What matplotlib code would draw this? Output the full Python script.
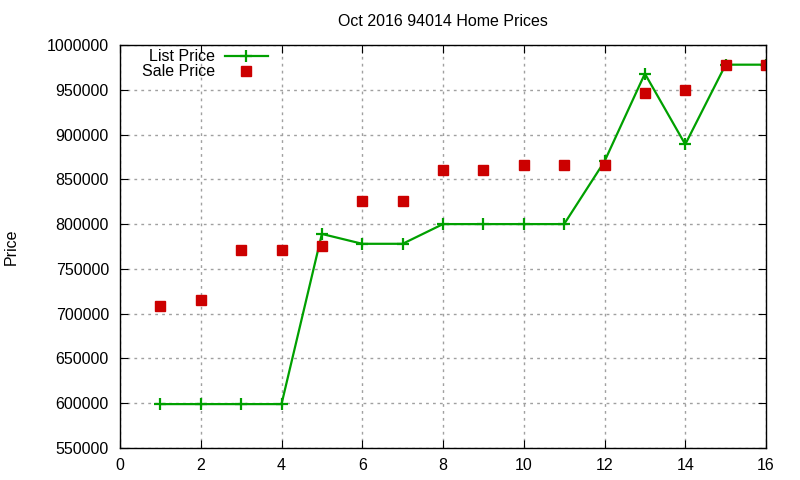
import numpy as np
from matplotlib import pyplot as plt
from matplotlib.ticker import FormatStrFormatter

plt.rcParams['font.family'] = ['Liberation Sans', 'DejaVu Sans']

homes = [1, 2, 3, 4, 5, 6, 7, 8, 9, 10, 11, 12, 13, 14, 15, 16]
list_price = [599000, 599000, 599000, 599000, 789000, 778000, 778000, 800000,
              800000, 800000, 800000, 870000, 968000, 889000, 978000, 978000]
sale_price = [708000, 715000, 771000, 771000, 775000, 826000, 826000, 860000,
              860000, 866000, 866000, 866000, 946000, 950000, 978000, 978000]

fig = plt.figure(figsize=(8, 4.8), dpi=100)
ax = fig.add_axes([0.15, 0.0667, 0.8075, 0.8396])

ax.plot(homes, list_price, color="#00a000", lw=1.6, marker="+", ms=8, mew=1.6,
        label="List Price")
ax.plot(homes, sale_price, ls="none", color="#cc0000", marker="s", ms=6.5,
        label="Sale Price")

ax.set_xlim(0, 16)
ax.set_ylim(550000, 1000000)
ax.set_xticks(np.arange(0, 17, 2))
ax.set_yticks(np.arange(550000, 1000001, 50000))
ax.yaxis.set_major_formatter(FormatStrFormatter("%d"))
ax.tick_params(direction="in", top=True, right=True, labelsize=11.5, length=6)
ax.tick_params(axis="x", pad=7)
ax.tick_params(axis="y", pad=8)
ax.grid(True, color="#a0a0a0", ls=(0, (2, 3)), lw=1)
for s in ax.spines.values():
    s.set_linewidth(1)
ax.set_title("Oct 2016 94014 Home Prices", fontsize=11.5, pad=14)
ax.set_ylabel("Price", fontsize=11.5, labelpad=20)

ax.legend(loc="upper left", bbox_to_anchor=(0.012, 1.025), markerfirst=False,
          frameon=False, fontsize=11.5, handlelength=2.7, labelspacing=0.0,
          handletextpad=0.6)

plt.savefig("out.png")
